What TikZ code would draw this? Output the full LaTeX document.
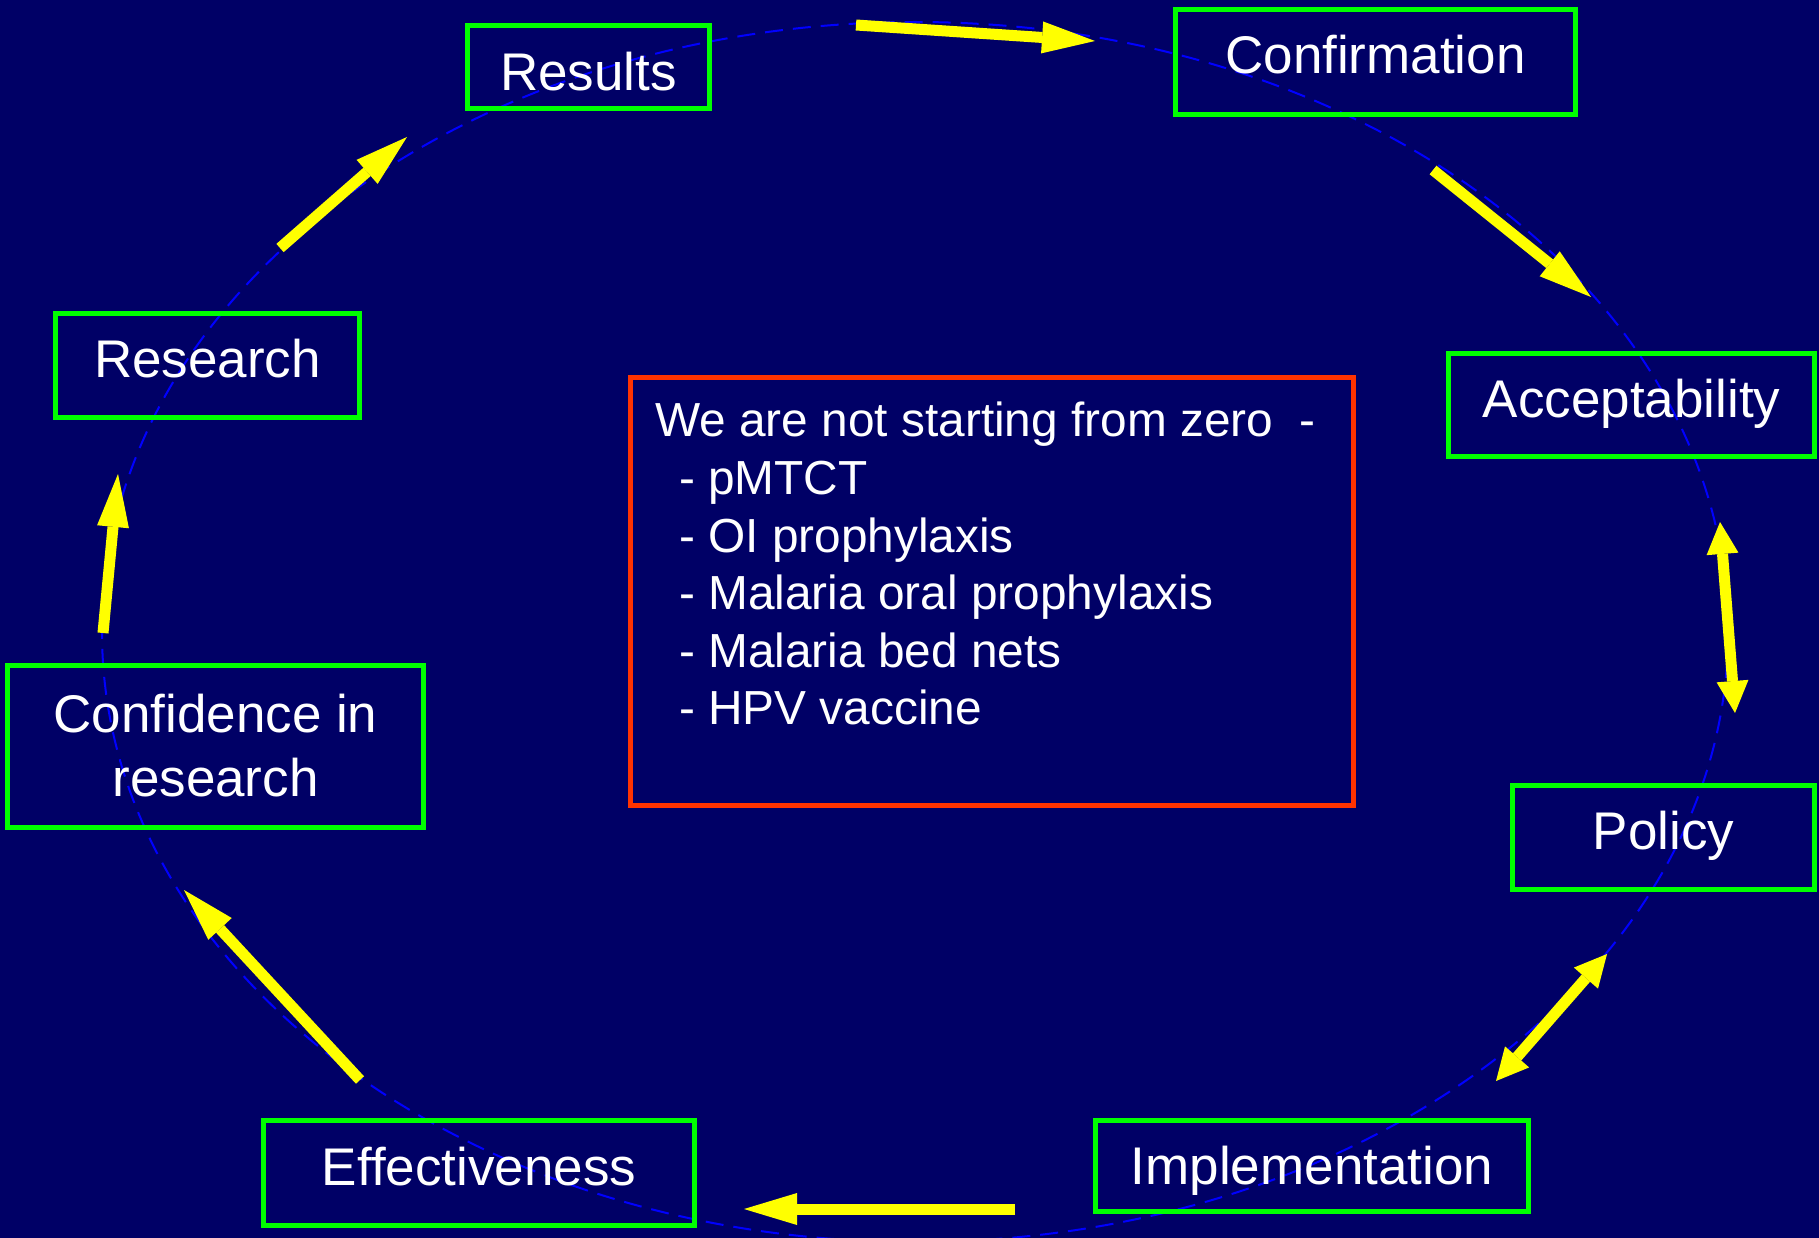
\documentclass[tikz,border=0pt]{standalone}
\usepackage{fontspec}
\setmainfont{Liberation Sans}
\usetikzlibrary{arrows.meta}
\definecolor{slidenavy}{RGB}{0,0,102}
\definecolor{stagegreen}{RGB}{0,255,0}
\definecolor{notered}{RGB}{255,51,0}
\definecolor{ringblue}{RGB}{0,0,255}
\definecolor{flowyellow}{RGB}{255,255,0}

\begin{document}
\begin{tikzpicture}%
	[x=1pt,
	y=-1pt,
	ring/.style={draw=ringblue, line width=2pt, dash pattern=on 18pt off 10pt},
	stage/.style={draw=stagegreen, line width=5pt, text=white, align=center, inner sep=0pt, text height=38pt, text depth=14pt, font=\fontsize{53}{64}\selectfont},
	low/.style={text height=44pt, text depth=8pt},
	lower/.style={text height=48pt, text depth=0pt},
	note/.style={draw=notered, line width=5pt, inner sep=0pt},
	notetext/.style={text=white, align=left, inner sep=0pt, anchor=north west, font=\fontsize{47.8}{57.6}\selectfont},
	flow/.style={draw=flowyellow, line width=11pt, -{Triangle[length=53pt,width=32pt,line width=0pt]}},
	twoway/.style={draw=flowyellow, line width=11pt, {Triangle[length=32pt,width=32pt,line width=0pt]}-{Triangle[length=32pt,width=32pt,line width=0pt]}}]
	%
	%
	%% Slide background:
	%%
	\useasboundingbox (0,0) rectangle (1819,1238);
	\fill[slidenavy] (0,0) rectangle (1819,1238);
	%%
	%% The dashed ring behind the stages
	%%
	\draw[ring] (915,632) ellipse [x radius=813, y radius=610];
	%%
	%%
	%% Drawing the stages
	%%
	\node[stage, minimum width=304pt, minimum height=104pt] (research) at (207.5,365.5) {Research};
	\node[stage, lower, minimum width=242pt, minimum height=83pt] (results) at (588.5,67) {Results};
	\node[stage, minimum width=400pt, minimum height=105pt] (confirmation) at (1375.5,62) {Confirmation};
	\node[stage, minimum width=366pt, minimum height=103pt] (acceptability) at (1631.5,405) {Acceptability};
	\node[stage, minimum width=302pt, minimum height=104pt] (policy) at (1663.5,837.5) {Policy};
	\node[stage, low, minimum width=433pt, minimum height=91pt] (implementation) at (1312,1166) {Implementation};
	\node[stage, minimum width=431pt, minimum height=105pt] (effectiveness) at (479,1173) {Effectiveness};
	\node[stage, text height=, text depth=, minimum width=416pt, minimum height=162pt] (confidence) at (215.5,746.5) {\raisebox{3pt}{Confidence in}\\\raisebox{3pt}{research}};
	%%
	%% The box in the middle
	%%
	\node[note, minimum width=723pt, minimum height=428pt] (zero) at (992,591.5) {};
	\node[notetext] (zerotext) at (655,402) {We are not starting from zero~ -\\
		\hspace*{24pt}- pMTCT\\
		\hspace*{24pt}- OI prophylaxis\\
		\hspace*{24pt}- Malaria oral prophylaxis\\
		\hspace*{24pt}- Malaria bed nets\\
		\hspace*{24pt}- HPV vaccine};
	%%
	%%
	%% Ends of the arrows:
	%%
	\coordinate (research-out) at (280,248);
	\coordinate (results-in) at (407,137);
	\coordinate (results-out) at (856,25);
	\coordinate (confirmation-in) at (1095,41);
	\coordinate (confirmation-out) at (1433,170);
	\coordinate (acceptability-in) at (1591,297);
	\coordinate (acceptability-end) at (1720,522);
	\coordinate (policy-top) at (1735,713);
	\coordinate (policy-low) at (1607,954);
	\coordinate (implementation-top) at (1496,1081);
	\coordinate (implementation-out) at (1015,1209);
	\coordinate (effectiveness-in) at (744,1209);
	\coordinate (effectiveness-out) at (360,1080);
	\coordinate (confidence-in) at (184,890);
	\coordinate (confidence-out) at (103,633);
	\coordinate (research-in) at (118,474);
	%%
	%% Drawing the arrows
	%%
	\draw[flow] (research-out) -- (results-in);
	\draw[flow] (results-out) -- (confirmation-in);
	\draw[flow] (confirmation-out) -- (acceptability-in);
	\draw[twoway] (acceptability-end) -- (policy-top);
	\draw[twoway] (policy-low) -- (implementation-top);
	\draw[flow] (implementation-out) -- (effectiveness-in);
	\draw[flow] (effectiveness-out) -- (confidence-in);
	\draw[flow] (confidence-out) -- (research-in);
	%%
	%%
\end{tikzpicture}
\end{document}
